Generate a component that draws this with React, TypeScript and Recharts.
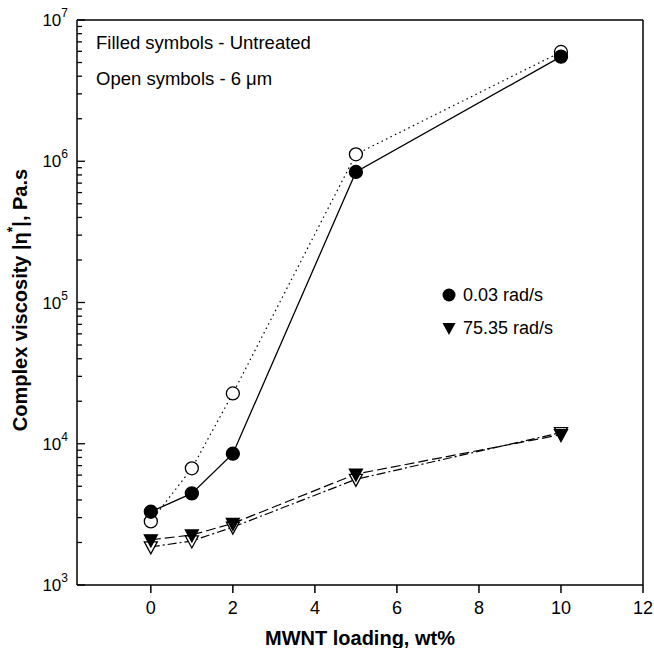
import React from 'react';
import {
  LineChart,
  Line,
  XAxis,
  YAxis,
  ReferenceLine,
} from 'recharts';

// MWNT loading (wt%)
const loading = [0, 1, 2, 5, 10];

// complex viscosity, Pa.s
const lowFreqUntreated = [3300, 4450, 8500, 840000, 5500000];
const lowFreq6um = [2820, 6700, 22700, 1120000, 5940000];
const highFreqUntreated = [2090, 2260, 2730, 6100, 11600];
const highFreq6um = [1860, 2050, 2570, 5600, 12000];

const xTicks = [0, 2, 4, 6, 8, 10, 12];
const yDecades = [1000, 10000, 100000, 1000000, 10000000];
const yTicks = yDecades.flatMap((d, i) =>
  i === yDecades.length - 1 ? [d] : [1, 2, 3, 4, 5, 6, 7, 8, 9].map((m) => d * m)
);

const data = loading.map((x, i) => ({
  x,
  lowU: lowFreqUntreated[i],
  low6: lowFreq6um[i],
  highU: highFreqUntreated[i],
  high6: highFreq6um[i],
}));

const FONT = '"Liberation Sans", Arial, sans-serif';

const circleDot = (fill: string) => (props: any) => {
  const { cx, cy, index } = props;
  return (
    <circle key={`c-${fill}-${index}`} cx={cx} cy={cy} r={6.5} fill={fill} stroke="#000" strokeWidth={1.3} />
  );
};

const triDot = (fill: string) => (props: any) => {
  const { cx, cy, index } = props;
  const pts = `${cx - 6.5},${cy - 5} ${cx + 6.5},${cy - 5} ${cx},${cy + 7}`;
  return <polygon key={`t-${fill}-${index}`} points={pts} fill={fill} stroke="#000" strokeWidth={1.3} />;
};

const YTick = (props: any) => {
  const { x, y, payload } = props;
  const v = payload.value;
  const exp = Math.round(Math.log10(v));
  const major = Math.abs(v - Math.pow(10, exp)) < v * 1e-6;
  return (
    <g>
      <line x1={x} x2={x + (major ? 8 : 5)} y1={y} y2={y} stroke="#000" strokeWidth={1.3} />
      {major && (
        <text x={x - 9} y={y} dy="0.36em" textAnchor="end" fontSize={17} fill="#000" fontFamily={FONT}>
          <tspan>10</tspan>
          <tspan dy={-9} fontSize={12}>{exp}</tspan>
        </text>
      )}
    </g>
  );
};

export default function App() {
  return (
    <div style={{ position: 'absolute', left: 0, top: 0, width: 654, height: 648, background: '#fff', fontFamily: FONT }}>
      <LineChart width={654} height={648} data={data} margin={{ top: 20, right: 11, left: 0, bottom: 0 }}>
        <XAxis
          dataKey="x"
          type="number"
          domain={[-1.8, 12]}
          ticks={xTicks}
          allowDataOverflow
          height={63}
          tickSize={8}
          tickMargin={8}
          stroke="#000"
          strokeWidth={1.5}
          tick={{ fontSize: 18, fill: '#000', fontFamily: FONT }}
          label={() => (
            <text x={360} y={638} dy="0.36em" textAnchor="middle" fontSize={20} fontWeight="bold" fontFamily={FONT} fill="#000">
              MWNT loading, wt%
            </text>
          )}
        />
        <YAxis
          scale="log"
          domain={[1000, 10000000]}
          ticks={yTicks}
          allowDataOverflow
          interval={0}
          width={77}
          tickSize={0}
          tickMargin={0}
          tickLine={false}
          stroke="#000"
          strokeWidth={1.5}
          tick={<YTick />}
          label={() => (
            <text
              x={20}
              y={300}
              textAnchor="middle"
              dominantBaseline="central"
              transform="rotate(-90 20 300)"
              fontSize={20}
              fontWeight="bold"
              fontFamily={FONT}
              fill="#000"
            >
              Complex viscosity |η<tspan dy={-8} fontSize={14}>*</tspan>
              <tspan dy={8}>|, Pa.s</tspan>
            </text>
          )}
        />
        <ReferenceLine y={10000000} stroke="#000" strokeWidth={1.5} />
        <ReferenceLine x={12} stroke="#000" strokeWidth={1.5} />
        <Line
          dataKey="high6"
          stroke="#000"
          strokeWidth={1.2}
          strokeDasharray="9 3 2 3"
          dot={triDot('#fff')}
          isAnimationActive={false}
        />
        <Line
          dataKey="highU"
          stroke="#000"
          strokeWidth={1.2}
          strokeDasharray="10 4"
          dot={triDot('#000')}
          isAnimationActive={false}
        />
        <Line
          dataKey="low6"
          stroke="#000"
          strokeWidth={1.2}
          strokeDasharray="1.5 3.5"
          dot={circleDot('#fff')}
          isAnimationActive={false}
        />
        <Line
          dataKey="lowU"
          stroke="#000"
          strokeWidth={1.3}
          dot={circleDot('#000')}
          isAnimationActive={false}
        />
      </LineChart>
      <div style={{ position: 'absolute', left: 96, top: 32, fontSize: 18.5, lineHeight: '22px', color: '#000' }}>
        Filled symbols - Untreated
      </div>
      <div style={{ position: 'absolute', left: 96, top: 68, fontSize: 18.5, lineHeight: '22px', color: '#000' }}>
        Open symbols - 6 μm
      </div>
      <svg width={130} height={60} style={{ position: 'absolute', left: 440, top: 282 }}>
        <circle cx={9} cy={13} r={6.5} fill="#000" />
        <text x={23} y={13} dy="0.36em" fontSize={18} fontFamily={FONT} fill="#000">0.03 rad/s</text>
        <polygon points="2.5,41 15.5,41 9,53" fill="#000" />
        <text x={23} y={46} dy="0.36em" fontSize={18} fontFamily={FONT} fill="#000">75.35 rad/s</text>
      </svg>
    </div>
  );
}
